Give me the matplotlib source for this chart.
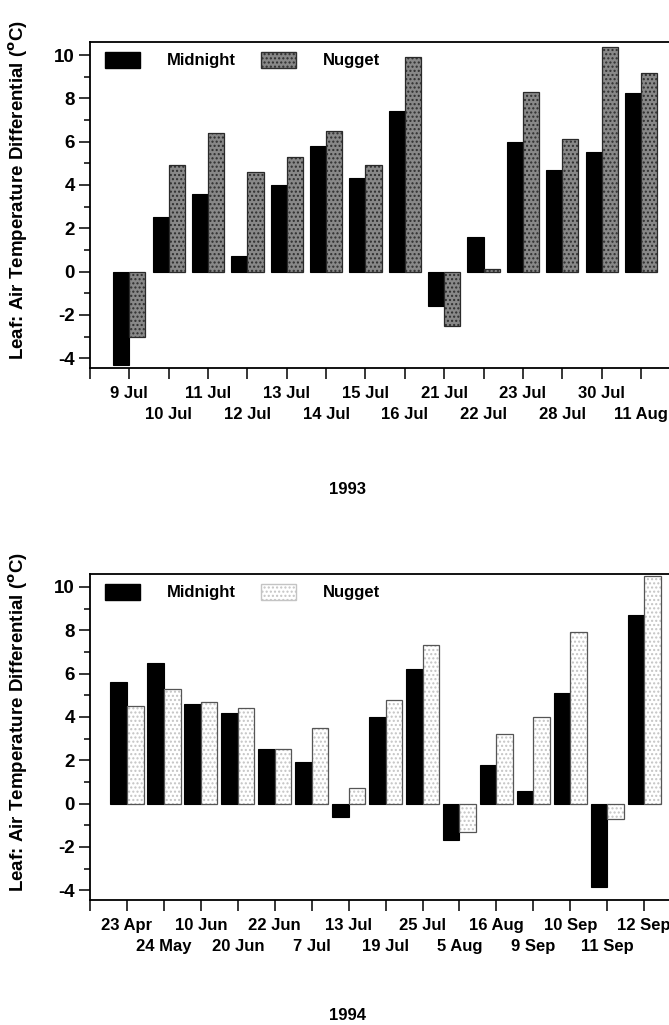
import numpy as np
import matplotlib
matplotlib.use("Agg")
import matplotlib.pyplot as plt
from matplotlib.patches import Patch

plt.rcParams['font.family'] = ['Liberation Sans', 'DejaVu Sans']
plt.rcParams['font.weight'] = 'bold'
plt.rcParams['mathtext.default'] = 'bf'
plt.rcParams['axes.unicode_minus'] = False

# 1993 season
dates_1993 = ['9 Jul', '10 Jul', '11 Jul', '12 Jul', '13 Jul', '14 Jul', '15 Jul',
              '16 Jul', '21 Jul', '22 Jul', '23 Jul', '28 Jul', '30 Jul', '11 Aug']
midnight_1993 = [-4.3, 2.5, 3.6, 0.7, 4.0, 5.8, 4.3, 7.4, -1.6, 1.6, 6.0, 4.7, 5.5, 8.25]
nugget_1993 = [-3.0, 4.9, 6.4, 4.6, 5.3, 6.5, 4.9, 9.9, -2.5, 0.1, 8.3, 6.1, 10.35, 9.15]

# 1994 season
dates_1994 = ['23 Apr', '24 May', '10 Jun', '20 Jun', '22 Jun', '7 Jul', '13 Jul', '19 Jul',
              '25 Jul', '5 Aug', '16 Aug', '9 Sep', '10 Sep', '11 Sep', '12 Sep']
midnight_1994 = [5.6, 6.5, 4.6, 4.2, 2.5, 1.9, -0.6, 4.0, 6.2, -1.7, 1.8, 0.6, 5.1, -3.85, 8.7]
nugget_1994 = [4.5, 5.3, 4.7, 4.4, 2.5, 3.5, 0.7, 4.8, 7.3, -1.3, 3.2, 4.0, 7.9, -0.7, 10.5]

ylabel = r'Leaf: Air Temperature Differential ($^{\mathbf{o}}$C)'


def draw_panel(ax, dates, mid, nug, width, right, nug_face, nug_hatch, nug_edge):
    x = np.arange(len(dates))
    ax.bar(x - width / 2, mid, width, color='black', edgecolor='black', linewidth=0.8)
    # textured nugget bars: hatch layer, then outline
    ax.bar(x + width / 2, nug, width, facecolor=nug_face, edgecolor=nug_hatch,
           hatch='....', linewidth=0)
    ax.bar(x + width / 2, nug, width, fill=False, edgecolor=nug_edge, linewidth=0.9)

    ax.set_xlim(-1, right)
    ax.set_ylim(-4.45, 10.6)
    ax.set_yticks(np.arange(-4, 11, 2))
    ax.set_yticks(np.arange(-3, 11, 2), minor=True)

    # staggered date labels: even dates on the first row, odd ones on the second
    even = x[::2]
    odd = x[1::2]
    ax.set_xticks(np.concatenate([[-1], even]))
    ax.set_xticklabels([''] + [dates[i] for i in even], fontsize=12, fontweight='bold')
    ax.set_xticks(odd, minor=True)
    ax.set_xticklabels([dates[i] for i in odd], minor=True, fontsize=12, fontweight='bold')

    for t in ax.get_yticklabels():
        t.set_fontsize(13.5)
        t.set_fontweight('bold')
    ax.tick_params(axis='both', which='major', direction='out', length=8, width=1.1)
    ax.tick_params(axis='y', which='minor', direction='out', length=4.5, width=1.1)
    ax.tick_params(axis='x', which='major', pad=5)
    ax.tick_params(axis='x', which='minor', direction='out', length=8, width=1.1, pad=20)
    ax.tick_params(axis='y', pad=3)
    ax.spines['right'].set_visible(False)
    for s in ['left', 'bottom', 'top']:
        ax.spines[s].set_linewidth(1.3)
    ax.set_ylabel(ylabel, fontsize=13.5, fontweight='bold')
    ax.yaxis.set_label_coords(-0.104, 0.545)

    handles = [Patch(facecolor='black', edgecolor='black'),
               Patch(facecolor=nug_face, edgecolor=nug_hatch, hatch='....')]
    ax.legend(handles, ['Midnight', 'Nugget'], loc='upper left', ncol=2,
              bbox_to_anchor=(0.026, 0.97), frameon=False, fontsize=12,
              borderpad=0, borderaxespad=0, handlelength=2.1, handleheight=1.1,
              handletextpad=1.6, columnspacing=1.5)


fig = plt.figure(figsize=(6.69, 10.25), dpi=100)
ax1 = fig.add_axes([0.1345, 0.641, 0.866, 0.318])
ax2 = fig.add_axes([0.1345, 0.122, 0.866, 0.318])

draw_panel(ax1, dates_1993, midnight_1993, nugget_1993, 0.41, 13.72,
           '#888888', '#2e2e2e', '#2a2a2a')
draw_panel(ax2, dates_1994, midnight_1994, nugget_1994, 0.45, 14.68,
           'white', '#c4c4c4', '#555555')

fig.text(0.52, 1 - 490 / 1025, '1993', ha='center', va='center', fontsize=12, fontweight='bold')
fig.text(0.52, 1 - 1016 / 1025, '1994', ha='center', va='center', fontsize=12, fontweight='bold')

fig.savefig('out.png', dpi=100)
